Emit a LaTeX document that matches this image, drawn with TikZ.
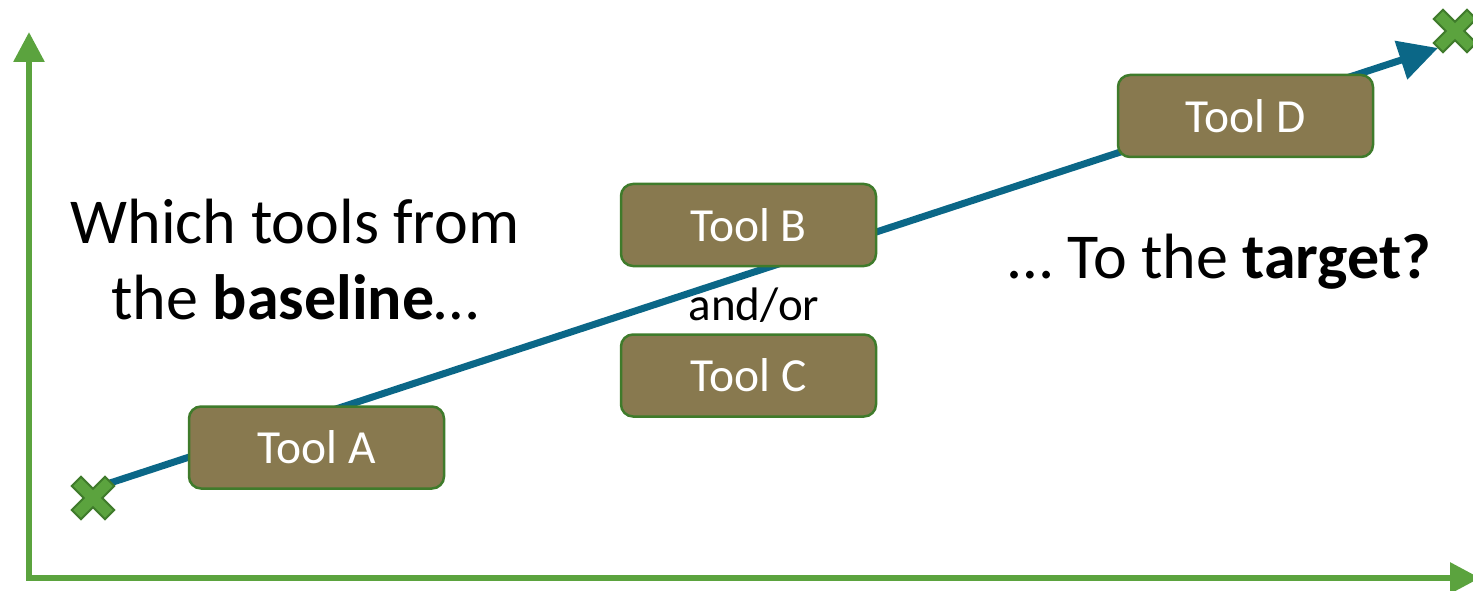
\documentclass[tikz,border=0pt]{standalone}
\usepackage{fontspec}
\setmainfont{Carlito}
\usetikzlibrary{arrows.meta}
\definecolor{axisgreen}{HTML}{5BA33E}
\definecolor{darkgreen}{HTML}{3F7B2B}
\definecolor{boxbrown}{HTML}{88794F}
\definecolor{pathblue}{HTML}{0B6787}
\tikzset{
  toolbox/.style={draw=darkgreen, line width=2.5pt, fill=boxbrown, rounded corners=12pt,
    minimum width=255pt, minimum height=82pt, text=white, font=\fontsize{47.5}{54}\selectfont, inner sep=0pt},
  axisline/.style={draw=axisgreen, line width=6pt, -{Triangle[width=30pt,length=30pt]}},
  pathline/.style={draw=pathblue, line width=7pt, -{Triangle[width=39pt,length=39pt]}},
  crossmark/.style={fill=axisgreen, draw=darkgreen, line width=2pt, line join=miter},
  bigtext/.style={font=\fontsize{64}{76}\selectfont, align=center, text=black, inner sep=0pt}
}
\newcommand{\crossat}[1]{%
  \filldraw[crossmark, shift={(#1)}, rotate=45]
    (-6.5,-23.5) -- (6.5,-23.5) -- (6.5,-6.5) -- (23.5,-6.5) -- (23.5,6.5) -- (6.5,6.5)
    -- (6.5,23.5) -- (-6.5,23.5) -- (-6.5,6.5) -- (-23.5,6.5) -- (-23.5,-6.5) -- (-6.5,-6.5) -- cycle;}
\begin{document}
\begin{tikzpicture}[x=1pt,y=-1pt]
\useasboundingbox (0,0) rectangle (1473,591);
\clip (0,0) rectangle (1473,591);
% axes
\coordinate (origin) at (29,578);
\coordinate (ytop) at (29,32);
\coordinate (xend) at (1480,578);
\draw[axisline] (origin) -- (ytop);
\draw[axisline] ([xshift=-3pt]origin) -- (xend);
% path
\coordinate (start) at (110,483);
\coordinate (tip) at (1438,48);
\draw[pathline] (start) -- (tip);
% crosses
\coordinate (startmark) at (93,498);
\coordinate (targetmark) at (1455,31);
\crossat{startmark}
\crossat{targetmark}
% boxes
\node[toolbox] (A) at (316.5,447.5) {Tool A};
\node[toolbox] (B) at (748.5,225) {Tool B};
\node[toolbox] (C) at (748.5,375.5) {Tool C};
\node[toolbox] (D) at (1245.5,116) {Tool D};
% texts
\node[font=\fontsize{47}{54}\selectfont, inner sep=0pt] (andor) at (754,305) {and/or};
\node[bigtext] (question) at (295,260) {Which tools from\\the \textbf{baseline}…};
\node[bigtext] (target) at (1220,262) {… To the \textbf{target?}};
\end{tikzpicture}
\end{document}
